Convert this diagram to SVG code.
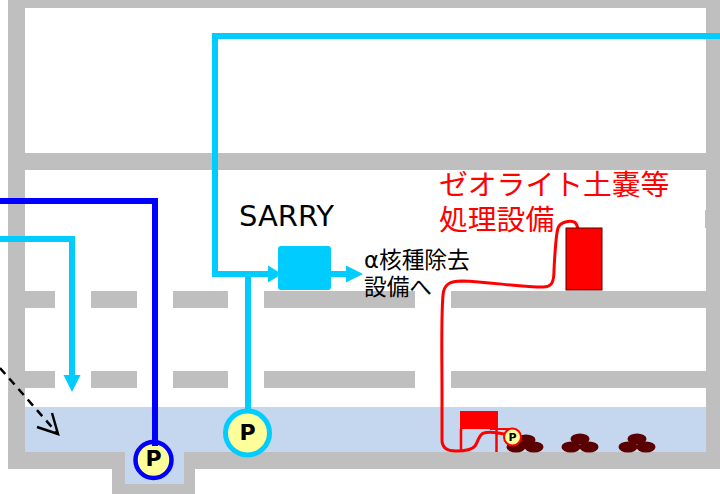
<svg xmlns="http://www.w3.org/2000/svg" width="720" height="494" viewBox="0 0 720 494">
<style>
.wall{fill:#bfbfbf}
.water{fill:#c5d6ef}
.pump{fill:#ffff99}
.pl{font-family:"DejaVu Sans",sans-serif;font-weight:700;font-size:22px;fill:#000;text-anchor:middle}
.t{font-family:"DejaVu Sans","Noto Sans CJK JP",sans-serif}
.cy{fill:none;stroke:#00ccff;stroke-width:6}
.head{fill:#00ccff}
.dep{fill:#5a0000}
</style>
<g id="building">
<rect class="wall" x="8" y="0" width="712" height="8"/>
<rect class="wall" x="8" y="0" width="17" height="469"/>
<rect class="wall" x="706" y="0" width="14" height="469"/>
<rect class="wall" x="705" y="210" width="1" height="18"/>
<rect class="wall" x="25" y="153" width="681" height="17"/>
<rect class="wall" x="25" y="291" width="30" height="17"/>
<rect class="wall" x="91" y="291" width="46" height="17"/>
<rect class="wall" x="173" y="291" width="55" height="17"/>
<rect class="wall" x="264" y="291" width="151" height="17"/>
<rect class="wall" x="451" y="291" width="255" height="17"/>
<rect class="wall" x="25" y="371" width="30" height="17"/>
<rect class="wall" x="91" y="371" width="46" height="17"/>
<rect class="wall" x="173" y="371" width="55" height="17"/>
<rect class="wall" x="264" y="371" width="151" height="17"/>
<rect class="wall" x="451" y="371" width="255" height="17"/>
<path class="wall" d="M8 452H720V469H195V494H112V469H8Z"/>
<path class="water" d="M25 407H706V452H184V484H125V452H25Z"/>
</g>
<g id="sediment">
<ellipse class="dep" cx="526" cy="440" rx="9.500" ry="5.500"/><ellipse class="dep" cx="516" cy="447" rx="9.500" ry="5.500"/><ellipse class="dep" cx="534" cy="447" rx="9.500" ry="5.500"/>
<ellipse class="dep" cx="580" cy="439" rx="9.500" ry="5.500"/><ellipse class="dep" cx="571" cy="447" rx="9.500" ry="5.500"/><ellipse class="dep" cx="589" cy="447" rx="9.500" ry="5.500"/>
<ellipse class="dep" cx="637" cy="439" rx="9.500" ry="5.500"/><ellipse class="dep" cx="628" cy="447" rx="9.500" ry="5.500"/><ellipse class="dep" cx="646" cy="447" rx="9.500" ry="5.500"/>
</g>
<g id="connectors">
<path class="cy" d="M720 36H215V274H270"/>
<path class="head" d="M268 265.500L282 274L268 282.500Z"/>
<path class="cy" d="M248 274V415"/>
<path class="cy" d="M330 274H348"/>
<path class="head" d="M346 265.500L363 274L346 282.500Z"/>
<path class="cy" d="M0 239H72V376"/>
<path class="head" d="M63.500 375H80.500L72 392Z"/>
<path d="M0 201H155V446" fill="none" stroke="#0000ff" stroke-width="6"/>
<path d="M0 368L58 434" fill="none" stroke="#000" stroke-width="2.500" stroke-dasharray="8 6"/>
<path d="M37 427L58 434L52 413" fill="none" stroke="#000" stroke-width="2.500"/>
<path d="M578 229C577 226 577 223 574 222C570 220 560 222 558 228C556 235 555 250 554 270C554 282 552 287 543 287C520 287 490 282 462 281C450 281 444 284 443 295C441 320 442 360 442 390V440C442 448 448 451 456 451C465 451 472 450 475 446C478 442 479 434 484 433C490 431 500 433 508 435" fill="none" stroke="#f00" stroke-width="3"/>
<path d="M490 429H510" fill="none" stroke="#f00" stroke-width="2"/>
</g>
<g id="sarry-unit"><rect x="278" y="246" width="53" height="44" rx="3" fill="#00ccff"/></g>
<g id="zeolite-unit"><rect x="566" y="228" width="36" height="62" fill="#f00" stroke="#5a0000" stroke-width="1"/></g>
<g id="sump-tank">
<rect x="460" y="411" width="38" height="18" fill="#f00"/>
<path d="M461 429V452M496.500 429V452" fill="none" stroke="#f00" stroke-width="2.500"/>
</g>
<g id="pump-blue"><circle class="pump" cx="153.500" cy="460" r="18" stroke="#0000ff" stroke-width="4.500"/><text class="pl" x="153.500" y="466">P</text><rect x="152" y="440" width="6" height="6" fill="#0000ff"/></g>
<g id="pump-cyan"><circle class="pump" cx="247.500" cy="433" r="22" stroke="#00ccff" stroke-width="5"/><text class="pl" x="247.500" y="440">P</text></g>
<g id="pump-red"><circle class="pump" cx="512.500" cy="437" r="8.500" stroke="#f00" stroke-width="2"/><text class="pl" x="512.500" y="441" style="font-size:11px">P</text></g>
<g id="labels">
<text class="t" x="239" y="226" font-size="29" fill="#000">SARRY</text>
<text class="t" x="364" y="268" font-size="22.700" fill="#000">α核種除去</text>
<text class="t" x="364" y="295" font-size="22.700" fill="#000">設備へ</text>
<text class="t" x="439" y="195" font-size="28.800" fill="#f00">ゼオライト土嚢等</text>
<text class="t" x="439" y="230" font-size="28.800" fill="#f00">処理設備</text>
</g>
</svg>
